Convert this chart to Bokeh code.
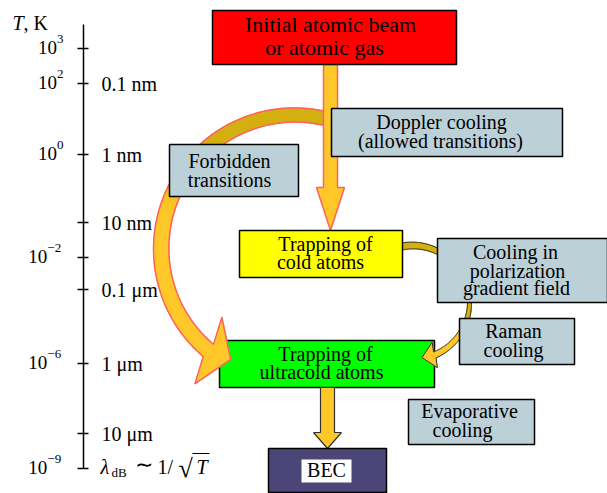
import numpy as np
from bokeh.plotting import figure
from bokeh.models import Range1d, ColumnDataSource
from bokeh.core.properties import value
from bokeh.embed import file_html
from bokeh.resources import INLINE

FONT = value("Liberation Serif")

# ---------------- data ----------------
# schematic temperature axis (T, K) and de Broglie wavelength labels
temp_exp = ["3", "2", "0", "−2", "−6", "−9"]
temp_tick_y = [48, 83, 154, 257, 363, 468]
lambda_labels = ["0.1 nm", "1 nm", "10 nm", "0.1 μm", "1 μm", "10 μm"]
lambda_tick_y = [83, 154, 222, 289, 363, 433]

# boxes of the scheme
box_id = ["initial", "doppler", "forbidden", "cold", "polar", "raman", "ultracold", "evap", "bec"]
box_left = [212, 331, 169, 239, 437, 459, 219, 408, 268]
box_right = [456, 562, 298, 402, 607, 574, 434, 534, 386]
box_top = [10, 108, 144, 230, 238, 318, 340, 399, 448]
box_bottom = [64, 156, 196, 277, 302, 364, 387, 444, 492]
box_fill = ["#ff0000", "#bcd0d8", "#bcd0d8", "#ffff00", "#bcd0d8",
            "#bcd0d8", "#00ff00", "#bcd0d8", "#4b4677"]

# texts in the boxes
line_text = ["Initial atomic beam", "or atomic gas",
             "Doppler cooling", "(allowed transitions)",
             "Forbidden", "transitions",
             "Trapping of", "cold atoms",
             "Cooling in", "polarization", "gradient field",
             "Raman", "cooling",
             "Trapping of", "ultracold atoms",
             "Evaporative", "cooling",
             "BEC"]
line_x = [330, 324, 441, 440, 229, 229, 325, 320, 515, 517, 516, 513, 513, 325, 321, 469, 462, 326]
line_y = [32, 55, 128, 147, 167, 186, 250, 268, 258, 277, 294, 337, 356, 360, 378, 417, 436, 476]
line_size = [22, 22] + [20] * 16

GOLD = "#ffc828"
DARK_GOLD = "#d3af0f"
SALMON = "#ff6060"
OUT = "#303030"

W_PX, H_PX = 607, 493

# ---------------- helpers ----------------
def ty(y, size):
    """baseline position -> y used by the text glyph"""
    return y - 0.35 * size

def hex2rgb(h):
    return np.array([int(h[i:i + 2], 16) for i in (1, 3, 5)], float)

def mix(c1, c2, f):
    c = hex2rgb(c1) * (1 - f) + hex2rgb(c2) * f
    return "#%02x%02x%02x" % tuple(int(round(v)) for v in c)

def rot(v, deg):
    c, s = np.cos(np.radians(deg)), np.sin(np.radians(deg))
    return np.array([v[0] * c - v[1] * s, v[0] * s + v[1] * c])

def curved_arrow(cx, cy, r, a0, a1, knot_a, knot_w, head_len, head_half, head_rot, n=160):
    A = np.linspace(a0, a1, n)
    ka = np.array(knot_a, float)
    kw = np.array(knot_w, float)
    o = np.argsort(ka)
    W = np.interp(A, ka[o], kw[o])
    rad = np.radians(A)
    ox = cx + (r + W) * np.cos(rad)
    oy = cy - (r + W) * np.sin(rad)
    ix = cx + (r - W) * np.cos(rad)
    iy = cy - (r - W) * np.sin(rad)
    e = np.radians(a1)
    B = np.array([cx + r * np.cos(e), cy - r * np.sin(e)])
    s = np.sign(a1 - a0)
    t = s * np.array([-np.sin(e), -np.cos(e)])
    u = rot(t, head_rot)
    nrm = np.array([u[1], -u[0]])
    outward = np.array([np.cos(e), -np.sin(e)])
    if nrm @ outward < 0:
        nrm = -nrm
    tip = B + head_len * u
    bo = B + head_half * nrm
    bi = B - head_half * nrm
    px = list(ox) + [bo[0], tip[0], bi[0]] + list(ix[::-1])
    py = list(oy) + [bo[1], tip[1], bi[1]] + list(iy[::-1])
    head = ([ox[-1], bo[0], tip[0], bi[0], ix[-1]], [oy[-1], bo[1], tip[1], bi[1], iy[-1]])
    return A, ox, oy, ix, iy, px, py, head

def draw_curved(p, arrow, a_dark, a_bright, line_color, line_width):
    A, ox, oy, ix, iy, px, py, head = arrow
    xs, ys, cols = [], [], []
    for i in range(len(A) - 1):
        f = float(np.clip((A[i] - a_dark) / (a_bright - a_dark), 0, 1))
        xs.append([ox[i], ox[i + 1], ix[i + 1], ix[i]])
        ys.append([oy[i], oy[i + 1], iy[i + 1], iy[i]])
        cols.append(mix(DARK_GOLD, GOLD, f))
    xs.append(head[0])
    ys.append(head[1])
    f = float(np.clip((A[-1] - a_dark) / (a_bright - a_dark), 0, 1))
    cols.append(mix(DARK_GOLD, GOLD, f))
    p.patches(xs="xs", ys="ys", fill_color="c", line_color="c", line_width=1,
              source=ColumnDataSource(dict(xs=xs, ys=ys, c=cols)))
    p.patch(px, py, fill_alpha=0, line_color=line_color, line_width=line_width)

def straight_arrow(xc, y0, y1, half, head_half, head_len):
    hb = y1 - head_len
    xs = [xc - half, xc + half, xc + half, xc + head_half, xc, xc - head_half, xc - half]
    ys = [y0, y0, hb, hb, y1, hb, hb]
    return xs, ys

def label(x, y, text, size, style="normal", align="left"):
    p.text(x=[x], y=[ty(y, size)], text=[text], text_font=FONT,
           text_font_size=value(f"{size}px"), text_font_style=style,
           text_align=align, text_baseline="alphabetic", text_color="black")

# ---------------- figure ----------------
p = figure(width=W_PX, height=H_PX, x_range=Range1d(0, W_PX), y_range=Range1d(H_PX, 0),
           output_backend="svg", toolbar_location=None, min_border=0,
           x_axis_location=None, y_axis_location=None)
p.grid.visible = False
p.outline_line_color = None
p.background_fill_color = "white"
p.border_fill_color = "white"

ui = box_id.index("ultracold")
other = [i for i in range(len(box_id)) if i != ui]

def quads(idx):
    src = ColumnDataSource(dict(l=[box_left[i] for i in idx], r=[box_right[i] for i in idx],
                                t=[box_top[i] for i in idx], b=[box_bottom[i] for i in idx],
                                c=[box_fill[i] for i in idx]))
    p.quad(left="l", right="r", top="t", bottom="b", fill_color="c",
           line_color="black", line_width=1.5, source=src)

# green box first (arrow heads overlap it)
quads([ui])

# big curved arrow (forbidden transitions)
big = curved_arrow(294.3, 248.1, 133.6, 74, 229.7, [74, 229.7], [7, 8],
                   24, 36, -18.3)
draw_curved(p, big, 135, 165, SALMON, 1.5)

# small curved arrow (polarization gradient / Raman cooling)
small = curved_arrow(412, 302, 57, 106, -67, [106, 0, -67], [3.6, 2.0, 3.2],
                     13, 13, 11.5)
draw_curved(p, small, -15, -35, OUT, 1)

# Doppler straight arrow
ii = box_id.index("initial")
ci = box_id.index("cold")
dx, dy = straight_arrow(330, box_bottom[ii], box_top[ci], 7, 14, 43)
p.patch(dx, dy, fill_color=GOLD, line_color=SALMON, line_width=1.5)

# arrow to BEC
bi = box_id.index("bec")
bx, by = straight_arrow(327, box_bottom[ui], box_top[bi], 7, 14, 16)
p.patch(bx, by, fill_color=GOLD, line_color=OUT, line_width=1.2)

# other boxes
quads(other)

# white label field in BEC box
p.quad(left=[301], right=[351], top=[459], bottom=[482], fill_color="white", line_color=None)

# texts
p.text(x="x", y="y", text="text", text_font_size="s",
       source=ColumnDataSource(dict(x=line_x, y=[ty(y, s) for y, s in zip(line_y, line_size)],
                                    text=line_text, s=[f"{s}px" for s in line_size])),
       text_font=FONT, text_align="center", text_baseline="alphabetic", text_color="black")

# ---------------- schematic axis ----------------
AX = 83
ticks = sorted(set(temp_tick_y) | set(lambda_tick_y))
p.segment(x0=[AX], y0=[24], x1=[AX], y1=[max(ticks)], line_color="black", line_width=1.5)
p.segment(x0=[AX - 6] * len(ticks), y0=ticks, x1=[AX + 5] * len(ticks), y1=ticks,
          line_color="black", line_width=1.5)

exp_right = 63
exp_w = [6.5 * len(e.replace("−", "")) + (9.7 if "−" in e else 0) for e in temp_exp]
exp_x = [exp_right - w for w in exp_w]
p.text(x=exp_x, y=[ty(t + 6, 19) for t in temp_tick_y], text=["10"] * len(temp_exp),
       text_font=FONT, text_font_size="19px", text_align="right",
       text_baseline="alphabetic", text_color="black")
p.text(x=exp_x, y=[ty(t - 4.5, 13) for t in temp_tick_y], text=temp_exp,
       text_font=FONT, text_font_size="13px", text_align="left",
       text_baseline="alphabetic", text_color="black")
p.text(x=[101] * len(lambda_labels), y=[ty(t + 7, 20) for t in lambda_tick_y], text=lambda_labels,
       text_font=FONT, text_font_size="20px", text_align="left",
       text_baseline="alphabetic", text_color="black")

# axis title "T, K"
label(12, 29, "T", 20, "italic")
label(23, 29, ", K", 20)

# lambda_dB ~ 1/sqrt(T)
lam_y = 473
label(100, lam_y, "λ", 20, "italic")
label(111, lam_y + 4, "dB", 13)
label(134, lam_y - 1, "∼", 22)
label(157, lam_y, "1/", 20)
label(178, lam_y + 4, "√", 26)
p.segment(x0=[192], y0=[453], x1=[209], y1=[453], line_color="black", line_width=1)
label(196, lam_y, "T", 20, "italic")

open("out.html", "w").write(file_html(p, INLINE))
